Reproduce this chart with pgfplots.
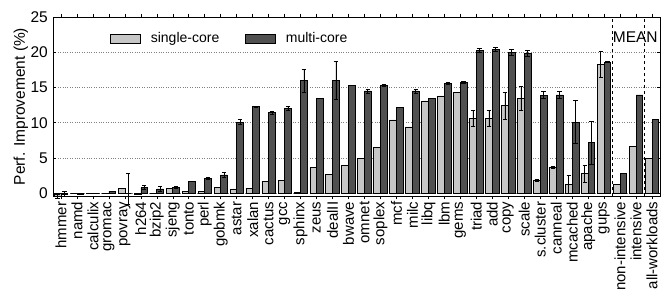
\documentclass[border=0pt]{standalone}
\usepackage{pgfplots}
\pgfplotsset{compat=1.18}
\usepackage{pgfplotstable}
\usepackage{fontspec}
\setmainfont{Liberation Sans}
\definecolor{lightbar}{RGB}{198,198,198}
\definecolor{darkbar}{RGB}{80,80,80}
\pgfplotstableread{
x s sp sm m mp mm
0 -0.4 0.3 0.3 -0.1 0.4 0.4
1 0 0 0 -0.1 0 0
2 0 0 0 0 0 0
3 0 0 0 0.3 0 0
4 0.7 0 0 0 2.8 1.6
5 -0.1 0 0 0.8 0.3 0.3
6 0 0 0 0.6 0.3 0.3
7 0.65 0 0 0.8 0.1 0.1
8 0.3 0 0 1.65 0 0
9 0.3 0 0 2.1 0.2 0.2
10 0.85 0 0 2.6 0.35 0.35
11 0.6 0 0 10.1 0.35 0.35
12 0.7 0 0 12.3 0.05 0.05
13 1.7 0 0 11.4 0.2 0.2
14 1.85 0 0 12.0 0.3 0.3
15 0.1 0 0 15.95 1.6 1.6
16 3.6 0 0 13.45 0 0
17 2.7 0 0 16.05 2.7 2.7
18 3.95 0 0 15.3 0 0
19 4.9 0 0 14.5 0.3 0.3
20 6.5 0 0 15.3 0.15 0.15
21 10.4 0 0 12.2 0 0
22 9.4 0 0 14.5 0.3 0.3
23 13.1 0 0 13.4 0 0
24 13.8 0 0 15.6 0.1 0.1
25 14.35 0 0 15.7 0.1 0.1
26 10.6 1.1 1.1 20.3 0.3 0.3
27 10.6 1.1 1.1 20.4 0.3 0.3
28 12.4 1.9 1.9 20.0 0.4 0.4
29 13.45 1.65 1.65 19.85 0.4 0.4
30 1.8 0.1 0.1 13.9 0.5 0.5
31 3.65 0.1 0.1 13.95 0.5 0.5
32 1.25 1.3 1.3 10.1 3.05 3.05
33 2.8 1.2 1.2 7.15 3.0 3.0
34 18.3 1.8 1.8 18.6 0.1 0.1
35 1.3 0 0 2.8 0 0
36 6.6 0 0 13.95 0 0
37 4.9 0 0 10.45 0 0
}\data
\begin{document}
\fontsize{15pt}{18pt}\selectfont
\begin{tikzpicture}
\useasboundingbox (-53pt,-101pt) rectangle (608pt,196pt);
\begin{axis}[
  scale only axis,
  width=607pt, height=179pt,
  at={(0,0)}, anchor=south west,
  xmin=-0.5, xmax=37.5,
  ymin=-0.4, ymax=25,
  ytick={0,5,10,15,20,25},
  xtick={0,...,37},
  xticklabels={hmmer,namd,calculix,gromac,povray,h264,bzip2,sjeng,tonto,perl,gobmk,astar,xalan,cactus,gcc,sphinx,zeus,dealII,bwave,omnet,soplex,mcf,milc,libq,lbm,gems,triad,add,copy,scale,s.cluster,canneal,mcached,apache,gups,non-intensive,intensive,all-workloads},
  xticklabel style={rotate=90, anchor=east, font=\fontsize{15pt}{15pt}\selectfont, inner sep=1pt},
  xticklabel shift=1.5pt,
  yticklabel style={font=\fontsize{15.5pt}{15.5pt}\selectfont},
  /pgf/number format/assume math mode=true,
  tick align=inside,
  major tick length=3pt,
  tick style={black, line width=0.6pt},
  axis line style={black, line width=0.8pt},
  ymajorgrids,
  grid style={dotted, gray, line width=0.8pt},
  ylabel={Perf. Improvement (\%)},
  ylabel style={at={(axis description cs:-0.053,0.5)}, anchor=center, font=\fontsize{15.5pt}{15.5pt}\selectfont},
  ybar=0pt,
  bar width=0.42,
  clip=false,
  legend columns=2,
  legend style={draw=none, fill=none, at={(axis description cs:0.089,0.88)}, anchor=west, font=\fontsize{14pt}{14pt}\selectfont,
    /tikz/every odd column/.append style={column sep=8pt},
    /tikz/every even column/.append style={column sep=24pt}},
  legend image code/.code={\draw[#1, line width=0.6pt] (0pt,-4.5pt) rectangle (30pt,4.5pt);},
  error bars/error bar style={black, line width=0.7pt},
  error bars/error mark options={rotate=90, mark size=2.2pt, black, line width=0.7pt},
]
\addplot[fill=lightbar, draw=black, line width=0.7pt, bar shift=-0.21,
  error bars/.cd, y dir=both, y explicit]
  table[x=x, y=s, y error plus=sp, y error minus=sm]{\data};
\addlegendentry{single-core}
\addplot[fill=darkbar, draw=black, line width=0.7pt, bar shift=0.21,
  error bars/.cd, y dir=both, y explicit]
  table[x=x, y=m, y error plus=mp, y error minus=mm]{\data};
\addlegendentry{multi-core}
\draw[dashed, line width=0.8pt] (axis cs:34.5,-0.4) -- (axis cs:34.5,25);
\draw[dashed, line width=0.8pt] (axis cs:36.5,-0.4) -- (axis cs:36.5,25);
\node[font=\fontsize{15.5pt}{15.5pt}\selectfont] at (axis cs:35.95,22.2) {MEAN};
\end{axis}
\end{tikzpicture}
\end{document}
